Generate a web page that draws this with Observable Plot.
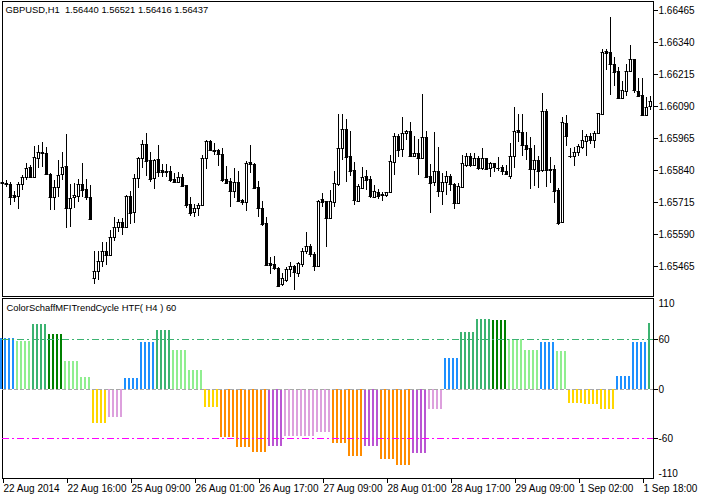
<!DOCTYPE html>
<html><head><meta charset="utf-8">
<script src="https://cdn.jsdelivr.net/npm/d3@7"></script>
<script src="https://cdn.jsdelivr.net/npm/@observablehq/plot@0.6"></script>
<style>
body{margin:0;background:#fff;}
#chart{position:relative;width:705px;height:498px;overflow:hidden;background:#fff;}
#chart svg{position:absolute;left:0;}
</style></head><body><div id="chart"></div>
<script>
const chartTitle = "GBPUSD,H1  1.56440 1.56521 1.56416 1.56437";
const indicatorTitle = "ColorSchaffMFITrendCycle HTF( H4 ) 60";

const opens = [
1.65793,1.65789,1.65785,1.65742,1.65738,1.65785,1.65813,1.65852,1.65813,1.65887,
1.65910,1.65906,1.65824,1.65735,1.65774,1.65824,1.65856,1.65692,1.65735,1.65738,
1.65785,1.65766,1.65735,1.65418,1.65445,1.65484,1.65524,1.65508,1.65578,1.65617,
1.65637,1.65617,1.65738,1.65676,1.65809,1.65887,1.65942,1.65879,1.65809,1.65883,
1.65840,1.65836,1.65836,1.65805,1.65793,1.65813,1.65781,1.65707,1.65676,1.65692,
1.65703,1.65887,1.65953,1.65918,1.65918,1.65903,1.65805,1.65797,1.65758,1.65793,
1.65723,1.65715,1.65871,1.65863,1.65774,1.65692,1.65633,1.65477,1.65473,1.65457,
1.65395,1.65410,1.65453,1.65465,1.65438,1.65473,1.65524,1.65543,1.65512,1.65465,
1.65727,1.65719,1.65652,1.65715,1.65785,1.65926,1.66000,1.65895,1.65840,1.65719,
1.65770,1.65817,1.65805,1.65735,1.65754,1.65746,1.65742,1.65754,1.65871,1.65973,
1.65922,1.65985,1.65993,1.65895,1.65906,1.65887,1.65969,1.65817,1.65793,1.65836,
1.65758,1.65793,1.65817,1.65785,1.65711,1.65774,1.65860,1.65895,1.65860,1.65887,
1.65848,1.65887,1.65848,1.65867,1.65848,1.65852,1.65836,1.65817,1.65895,1.65996,
1.65989,1.65938,1.65926,1.65844,1.65879,1.65840,1.66070,1.65844,1.65844,1.65762,
1.65637,1.66024,1.65895,1.65895,1.65910,1.65930,1.65953,1.65973,1.65957,1.65985,
1.66059,1.66305,1.66301,1.66254,1.66227,1.66121,1.66149,1.66227,1.66274,1.66149,
1.66133,1.66055,1.66090];
const highs = [
1.65797,1.65801,1.65793,1.65758,1.65793,1.65820,1.65867,1.65860,1.65934,1.65938,
1.65949,1.65930,1.65828,1.65801,1.65879,1.65910,1.65981,1.65785,1.65789,1.65805,
1.65867,1.65805,1.65781,1.65524,1.65524,1.65559,1.65559,1.65606,1.65656,1.65649,
1.65652,1.65742,1.65758,1.65824,1.65891,1.65957,1.65985,1.65910,1.65883,1.65938,
1.65863,1.65863,1.65856,1.65828,1.65832,1.65824,1.65781,1.65735,1.65707,1.65711,
1.65899,1.65957,1.65957,1.65945,1.65922,1.65926,1.65856,1.65809,1.65848,1.65836,
1.65727,1.65875,1.65938,1.65867,1.65797,1.65719,1.65656,1.65500,1.65504,1.65461,
1.65438,1.65461,1.65481,1.65469,1.65481,1.65535,1.65598,1.65551,1.65520,1.65723,
1.65750,1.65719,1.65762,1.65836,1.66059,1.66059,1.66039,1.65993,1.65871,1.65785,
1.65852,1.65840,1.65817,1.65781,1.65766,1.65754,1.65754,1.65899,1.65985,1.65981,
1.66047,1.65996,1.66028,1.65973,1.65961,1.66137,1.65993,1.65863,1.65989,1.65930,
1.65828,1.65836,1.65824,1.65789,1.65789,1.65899,1.65906,1.65906,1.65906,1.65895,
1.65926,1.65887,1.65871,1.65867,1.65891,1.65860,1.65860,1.65945,1.66086,1.66059,
1.66059,1.65989,1.65969,1.65938,1.65895,1.66141,1.66078,1.65891,1.65860,1.65770,
1.66047,1.66055,1.65926,1.65930,1.65942,1.65996,1.65981,1.65985,1.65993,1.66063,
1.66313,1.66313,1.66438,1.66281,1.66242,1.66188,1.66254,1.66328,1.66274,1.66199,
1.66199,1.66125,1.66129];
const lows = [
1.65785,1.65774,1.65703,1.65715,1.65688,1.65762,1.65801,1.65809,1.65809,1.65848,
1.65852,1.65820,1.65684,1.65684,1.65735,1.65801,1.65613,1.65617,1.65692,1.65715,
1.65735,1.65723,1.65645,1.65395,1.65410,1.65461,1.65469,1.65505,1.65563,1.65598,
1.65586,1.65613,1.65629,1.65633,1.65770,1.65848,1.65817,1.65793,1.65766,1.65813,
1.65813,1.65813,1.65793,1.65790,1.65789,1.65774,1.65692,1.65660,1.65656,1.65660,
1.65699,1.65844,1.65914,1.65899,1.65856,1.65793,1.65789,1.65695,1.65731,1.65715,
1.65703,1.65680,1.65828,1.65766,1.65656,1.65621,1.65469,1.65434,1.65449,1.65383,
1.65387,1.65403,1.65422,1.65371,1.65422,1.65461,1.65512,1.65500,1.65445,1.65461,
1.65695,1.65539,1.65649,1.65695,1.65778,1.65879,1.65793,1.65817,1.65703,1.65715,
1.65770,1.65762,1.65731,1.65731,1.65727,1.65719,1.65735,1.65750,1.65820,1.65891,
1.65891,1.65957,1.65891,1.65891,1.65820,1.65883,1.65813,1.65672,1.65778,1.65735,
1.65703,1.65742,1.65758,1.65688,1.65711,1.65774,1.65852,1.65852,1.65856,1.65840,
1.65840,1.65840,1.65813,1.65832,1.65836,1.65820,1.65820,1.65805,1.65848,1.65949,
1.65895,1.65879,1.65766,1.65778,1.65770,1.65832,1.65774,1.65789,1.65711,1.65625,
1.65637,1.65934,1.65887,1.65856,1.65895,1.65922,1.65895,1.65942,1.65926,1.65985,
1.66059,1.66231,1.66133,1.66168,1.66121,1.66121,1.66129,1.66227,1.66141,1.66129,
1.66055,1.66051,1.66074];
const closes = [
1.65789,1.65785,1.65735,1.65735,1.65785,1.65813,1.65848,1.65813,1.65891,1.65910,
1.65906,1.65824,1.65735,1.65774,1.65820,1.65852,1.65692,1.65731,1.65742,1.65785,
1.65762,1.65735,1.65649,1.65445,1.65484,1.65524,1.65508,1.65578,1.65617,1.65637,
1.65617,1.65738,1.65672,1.65809,1.65887,1.65942,1.65875,1.65805,1.65879,1.65832,
1.65832,1.65832,1.65801,1.65793,1.65813,1.65778,1.65703,1.65672,1.65692,1.65703,
1.65887,1.65953,1.65918,1.65914,1.65903,1.65801,1.65789,1.65758,1.65793,1.65719,
1.65715,1.65867,1.65863,1.65770,1.65692,1.65629,1.65469,1.65469,1.65457,1.65387,
1.65418,1.65453,1.65465,1.65442,1.65477,1.65524,1.65543,1.65512,1.65465,1.65719,
1.65715,1.65652,1.65719,1.65789,1.65926,1.66000,1.65891,1.65836,1.65723,1.65778,
1.65813,1.65801,1.65738,1.65758,1.65738,1.65742,1.65754,1.65875,1.65973,1.65918,
1.65985,1.65993,1.65895,1.65906,1.65887,1.65969,1.65813,1.65789,1.65836,1.65758,
1.65793,1.65817,1.65785,1.65711,1.65778,1.65867,1.65895,1.65860,1.65887,1.65848,
1.65887,1.65844,1.65867,1.65852,1.65848,1.65836,1.65824,1.65895,1.65993,1.65989,
1.65938,1.65922,1.65844,1.65879,1.65836,1.66070,1.65840,1.65840,1.65758,1.65633,
1.66028,1.65973,1.65895,1.65910,1.65934,1.65957,1.65973,1.65957,1.65985,1.66063,
1.66301,1.66297,1.66254,1.66223,1.66121,1.66152,1.66227,1.66274,1.66152,1.66129,
1.66055,1.66086,1.66109];

const timeTicks = [0,16,32,48,64,80,96,112,128,144,160];
const timeLabels = ["22 Aug 2014","22 Aug 16:00","25 Aug 09:00","26 Aug 01:00","26 Aug 17:00","27 Aug 09:00","28 Aug 01:00","28 Aug 17:00","29 Aug 09:00","1 Sep 02:00","1 Sep 18:00"];
const priceTicks = [1.66465,1.66340,1.66215,1.66090,1.65965,1.65840,1.65715,1.65590,1.65465];
const indTicks = [60,0,-60];

// H4 blocks of the higher-timeframe indicator (first H1 bar of each block)
const htfStart = [0,4,8,12,16,20,23,27,31,35,39,43,47,51,55,59,63,67,71,75,79,83,87,91,95,99,103,107,111,115,119,123,127,131,135,139,142,146,150,154,158,162];
const htfValue = [61,58.5,78,66,34,14.5,-41,-34.5,13.3,57,70.7,47.6,22.2,-22.2,-58.6,-70.8,-76.8,-69.5,-57.4,-57.4,-52.6,-66.3,-81.7,-69.5,-84.5,-91.8,-78.4,-23.9,37.6,69.1,84.8,82.8,60.6,47.6,56.5,45.6,-17.8,-19,-25,16.1,57,80];
const htfState = ["bullStart","bullFade","bull","bullMax","bullFade","bullFade","bearStart","bearFade","bullStart","bullStart","bull","bullFade","bullFade","bearStart","bear","bear","bear","bearMax","bearFade","bearFade","bearFade","bear","bear","bearMax","bear","bear","bearMax","bearFade","bullStart","bull","bull","bullMax","bullFade","bullFade","bullStart","bullFade","bearStart","bearStart","bearStart","bullStart","bullStart","bull"];
const stateNames = ["bullMax","bull","bullFade","bullStart","bearStart","bear","bearMax","bearFade"];
const stateColors = ["#008000","#3CB371","#90EE90","#1E90FF","#FFD700","#FF8C00","#BA55D3","#DDA0DD"];
const levelUp = 60, levelDown = -60;

const lastBar = opens.length - 1;
const bars = opens.map((o, i) => ({i, o, h: highs[i], l: lows[i], c: closes[i], up: closes[i] >= o}));
const hist = [];
htfStart.forEach((s, g) => {
  const e = g + 1 < htfStart.length ? htfStart[g + 1] - 1 : lastBar;
  for (let i = s; i <= e; i++) hist.push({i, v: htfValue[g], s: htfState[g]});
});

const font = '"Liberation Sans", Arial, sans-serif';
const xScale = {domain: [0, lastBar], range: [2, 2 + 4 * lastBar], axis: null};

const pricePlot = Plot.plot({
  width: 705, height: 298,
  marginLeft: 2, marginRight: 52, marginTop: 1, marginBottom: 2,
  style: {fontFamily: font, fontSize: "10px", background: "white", color: "black", overflow: "visible"},
  x: xScale,
  y: {domain: [1.65465, 1.66465], range: [266, 10], round: true, axis: null},
  marks: [
    Plot.frame({stroke: "black"}),
    Plot.ruleX(bars, {x: "i", y1: "l", y2: "h", stroke: "black"}),
    Plot.rect(bars, {x1: d => d.i - 0.25, x2: d => d.i + 0.25, y1: "o", y2: "c",
      insetLeft: 0.5, insetRight: -0.5, insetTop: 0.5, insetBottom: -0.5,
      fill: d => d.up ? "white" : "black", stroke: "black"}),
    Plot.ruleY(bars, {x1: d => d.i - 0.375, x2: d => d.i + 0.375, y: "o", stroke: "black"}),
    Plot.ruleY(bars, {x1: d => d.i - 0.375, x2: d => d.i + 0.375, y: "c", stroke: "black"}),
    Plot.axisY(priceTicks, {anchor: "right", label: null, tickSize: 4, tickPadding: 1, tickFormat: d => d.toFixed(5)}),
    Plot.text([chartTitle], {text: d => d, frameAnchor: "top-left", dx: 3, dy: 8, lineAnchor: "middle", textAnchor: "start", fill: "black", fontSize: 9.4})
  ]
});

const indPlot = Plot.plot({
  width: 705, height: 201,
  marginLeft: 2, marginRight: 52, marginTop: 1, marginBottom: 20,
  style: {fontFamily: font, fontSize: "10px", background: "white", color: "black", overflow: "visible"},
  x: xScale,
  y: {domain: [-60, 60], range: [141.3, 42.3], round: true, axis: null},
  color: {type: "ordinal", domain: stateNames, range: stateColors},
  marks: [
    Plot.frame({stroke: "black"}),
    Plot.ruleX(hist, {x: d => d.i - 0.375, y1: 0, y2: "v", stroke: "s", strokeWidth: 2}),
    Plot.ruleY([0], {stroke: "#a8a8a8", strokeDasharray: "4,2"}),
    Plot.ruleY([levelUp], {stroke: "#3CB371", strokeDasharray: "7,3,2,3"}),
    Plot.ruleY([levelDown], {stroke: "#FF00FF", strokeDasharray: "7,3,2,3"}),
    Plot.axisY(indTicks, {anchor: "right", label: null, tickSize: 4, tickPadding: 1, tickFormat: d => String(d)}),
    Plot.text(["110"], {text: d => d, frameAnchor: "top-right", dx: 5, dy: 5, lineAnchor: "middle", textAnchor: "start", fill: "black"}),
    Plot.text(["-110"], {text: d => d, frameAnchor: "bottom-right", dx: 5, dy: -5, lineAnchor: "middle", textAnchor: "start", fill: "black"}),
    Plot.axisX(timeTicks, {anchor: "bottom", label: null, tickSize: 5, tickPadding: 1, textAnchor: "start", dx: 1, tickFormat: d => timeLabels[timeTicks.indexOf(d)]}),
    Plot.text([indicatorTitle], {text: d => d, frameAnchor: "top-left", dx: 4, dy: 9, lineAnchor: "middle", textAnchor: "start", fill: "black", fontSize: 9.4})
  ]
});

pricePlot.style.top = "0px";
indPlot.style.top = "297px";
const chart = document.getElementById("chart");
chart.appendChild(pricePlot);
chart.appendChild(indPlot);
</script>
</body></html>
